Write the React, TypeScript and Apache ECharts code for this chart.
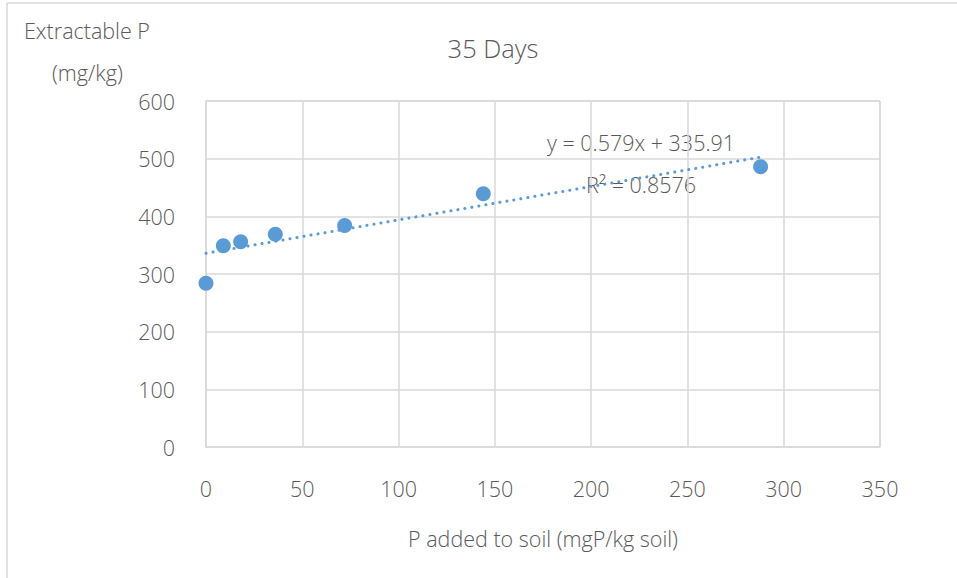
import React, { useEffect, useRef } from "react";
import * as echarts from "echarts";

const pAdded = [0, 9, 18, 36, 72, 144, 288];
const extractableP = [284, 349, 356, 369, 384, 439, 486];
const slope = 0.579;
const intercept = 335.91;
const trendStart = 0;
const trendEnd = 288;
const xTicks = [0, 50, 100, 150, 200, 250, 300, 350];
const yTicks = [0, 100, 200, 300, 400, 500, 600];

export default function App() {
  const ref = useRef<HTMLDivElement>(null);
  useEffect(() => {
    document.body.style.margin = "0";
    const chart = echarts.init(ref.current!, null, { renderer: "svg" });
    const font = "'Open Sans', 'Noto Sans', sans-serif";
    const txt = "#595959";
    const fs = 21.5;
    const fw = 300;
    chart.setOption({
      animation: false,
      backgroundColor: "#fff",
      title: {
        text: "35 Days",
        left: 488,
        top: 30,
        textAlign: "center",
        textStyle: { fontFamily: font, fontSize: 25.5, fontWeight: fw, color: txt },
      },
      grid: { left: 206, right: 77, top: 101, bottom: 131, containLabel: false },
      xAxis: {
        type: "value",
        min: xTicks[0],
        max: xTicks[xTicks.length - 1],
        interval: 50,
        name: "P added to soil (mgP/kg soil)",
        nameLocation: "middle",
        nameGap: 80,
        nameTextStyle: { fontFamily: font, fontSize: fs, fontWeight: fw, color: txt },
        axisLine: { show: true, lineStyle: { color: "#d9d9d9", width: 1.5 } },
        axisTick: { show: false },
        axisLabel: { fontFamily: font, fontSize: fs, fontWeight: fw, color: txt, margin: 30 },
        splitLine: { show: true, lineStyle: { color: "#d9d9d9", width: 1.5 } },
      },
      yAxis: {
        type: "value",
        min: yTicks[0],
        max: yTicks[yTicks.length - 1],
        interval: 100,
        axisLine: { show: true, lineStyle: { color: "#d9d9d9", width: 1.5 } },
        axisTick: { show: false },
        axisLabel: { fontFamily: font, fontSize: fs, fontWeight: fw, color: txt, margin: 31 },
        splitLine: { show: true, lineStyle: { color: "#d9d9d9", width: 1.5 } },
      },
      graphic: [
        { type: "line", shape: { x1: 7, y1: 3, x2: 957, y2: 3 }, style: { stroke: "#d9d9d9", lineWidth: 1.5 } },
        { type: "line", shape: { x1: 7, y1: 3, x2: 7, y2: 578 }, style: { stroke: "#d9d9d9", lineWidth: 1.5 } },
        { type: "line", shape: { x1: 880, y1: 101, x2: 880, y2: 447 }, style: { stroke: "#d9d9d9", lineWidth: 1.5 } },
        { type: "line", shape: { x1: 206, y1: 101, x2: 880, y2: 101 }, style: { stroke: "#d9d9d9", lineWidth: 1.5 } },
        {
          type: "text", left: 24, top: 19,
          style: { text: "Extractable P", fontFamily: font, fontSize: fs, fontWeight: fw, fill: txt },
        },
        {
          type: "text", left: 52, top: 61,
          style: { text: "(mg/kg)", fontFamily: font, fontSize: fs, fontWeight: fw, fill: txt },
        },
        {
          type: "text", x: 641, y: 142,
          style: { text: "y = 0.579x + 335.91", fontFamily: font, fontSize: fs, fontWeight: fw, fill: txt, align: "center", verticalAlign: "middle" },
        },
        {
          type: "text", x: 641, y: 184,
          style: { text: "R² = 0.8576", fontFamily: font, fontSize: fs, fontWeight: fw, fill: txt, align: "center", verticalAlign: "middle" },
        },
      ],
      series: [
        {
          type: "scatter",
          data: pAdded.map((x, i) => [x, extractableP[i]]),
          symbolSize: 15,
          itemStyle: { color: "#5b9bd5", opacity: 1 },
          z: 3,
        },
        {
          type: "line",
          data: [
            [trendStart, slope * trendStart + intercept],
            [trendEnd, slope * trendEnd + intercept],
          ],
          showSymbol: false,
          lineStyle: { color: "#5b9bd5", width: 3, type: [0.1, 7], cap: "round" },
          z: 4,
        },
      ],
    });
    return () => chart.dispose();
  }, []);
  return <div ref={ref} style={{ width: 957, height: 578 }} />;
}
